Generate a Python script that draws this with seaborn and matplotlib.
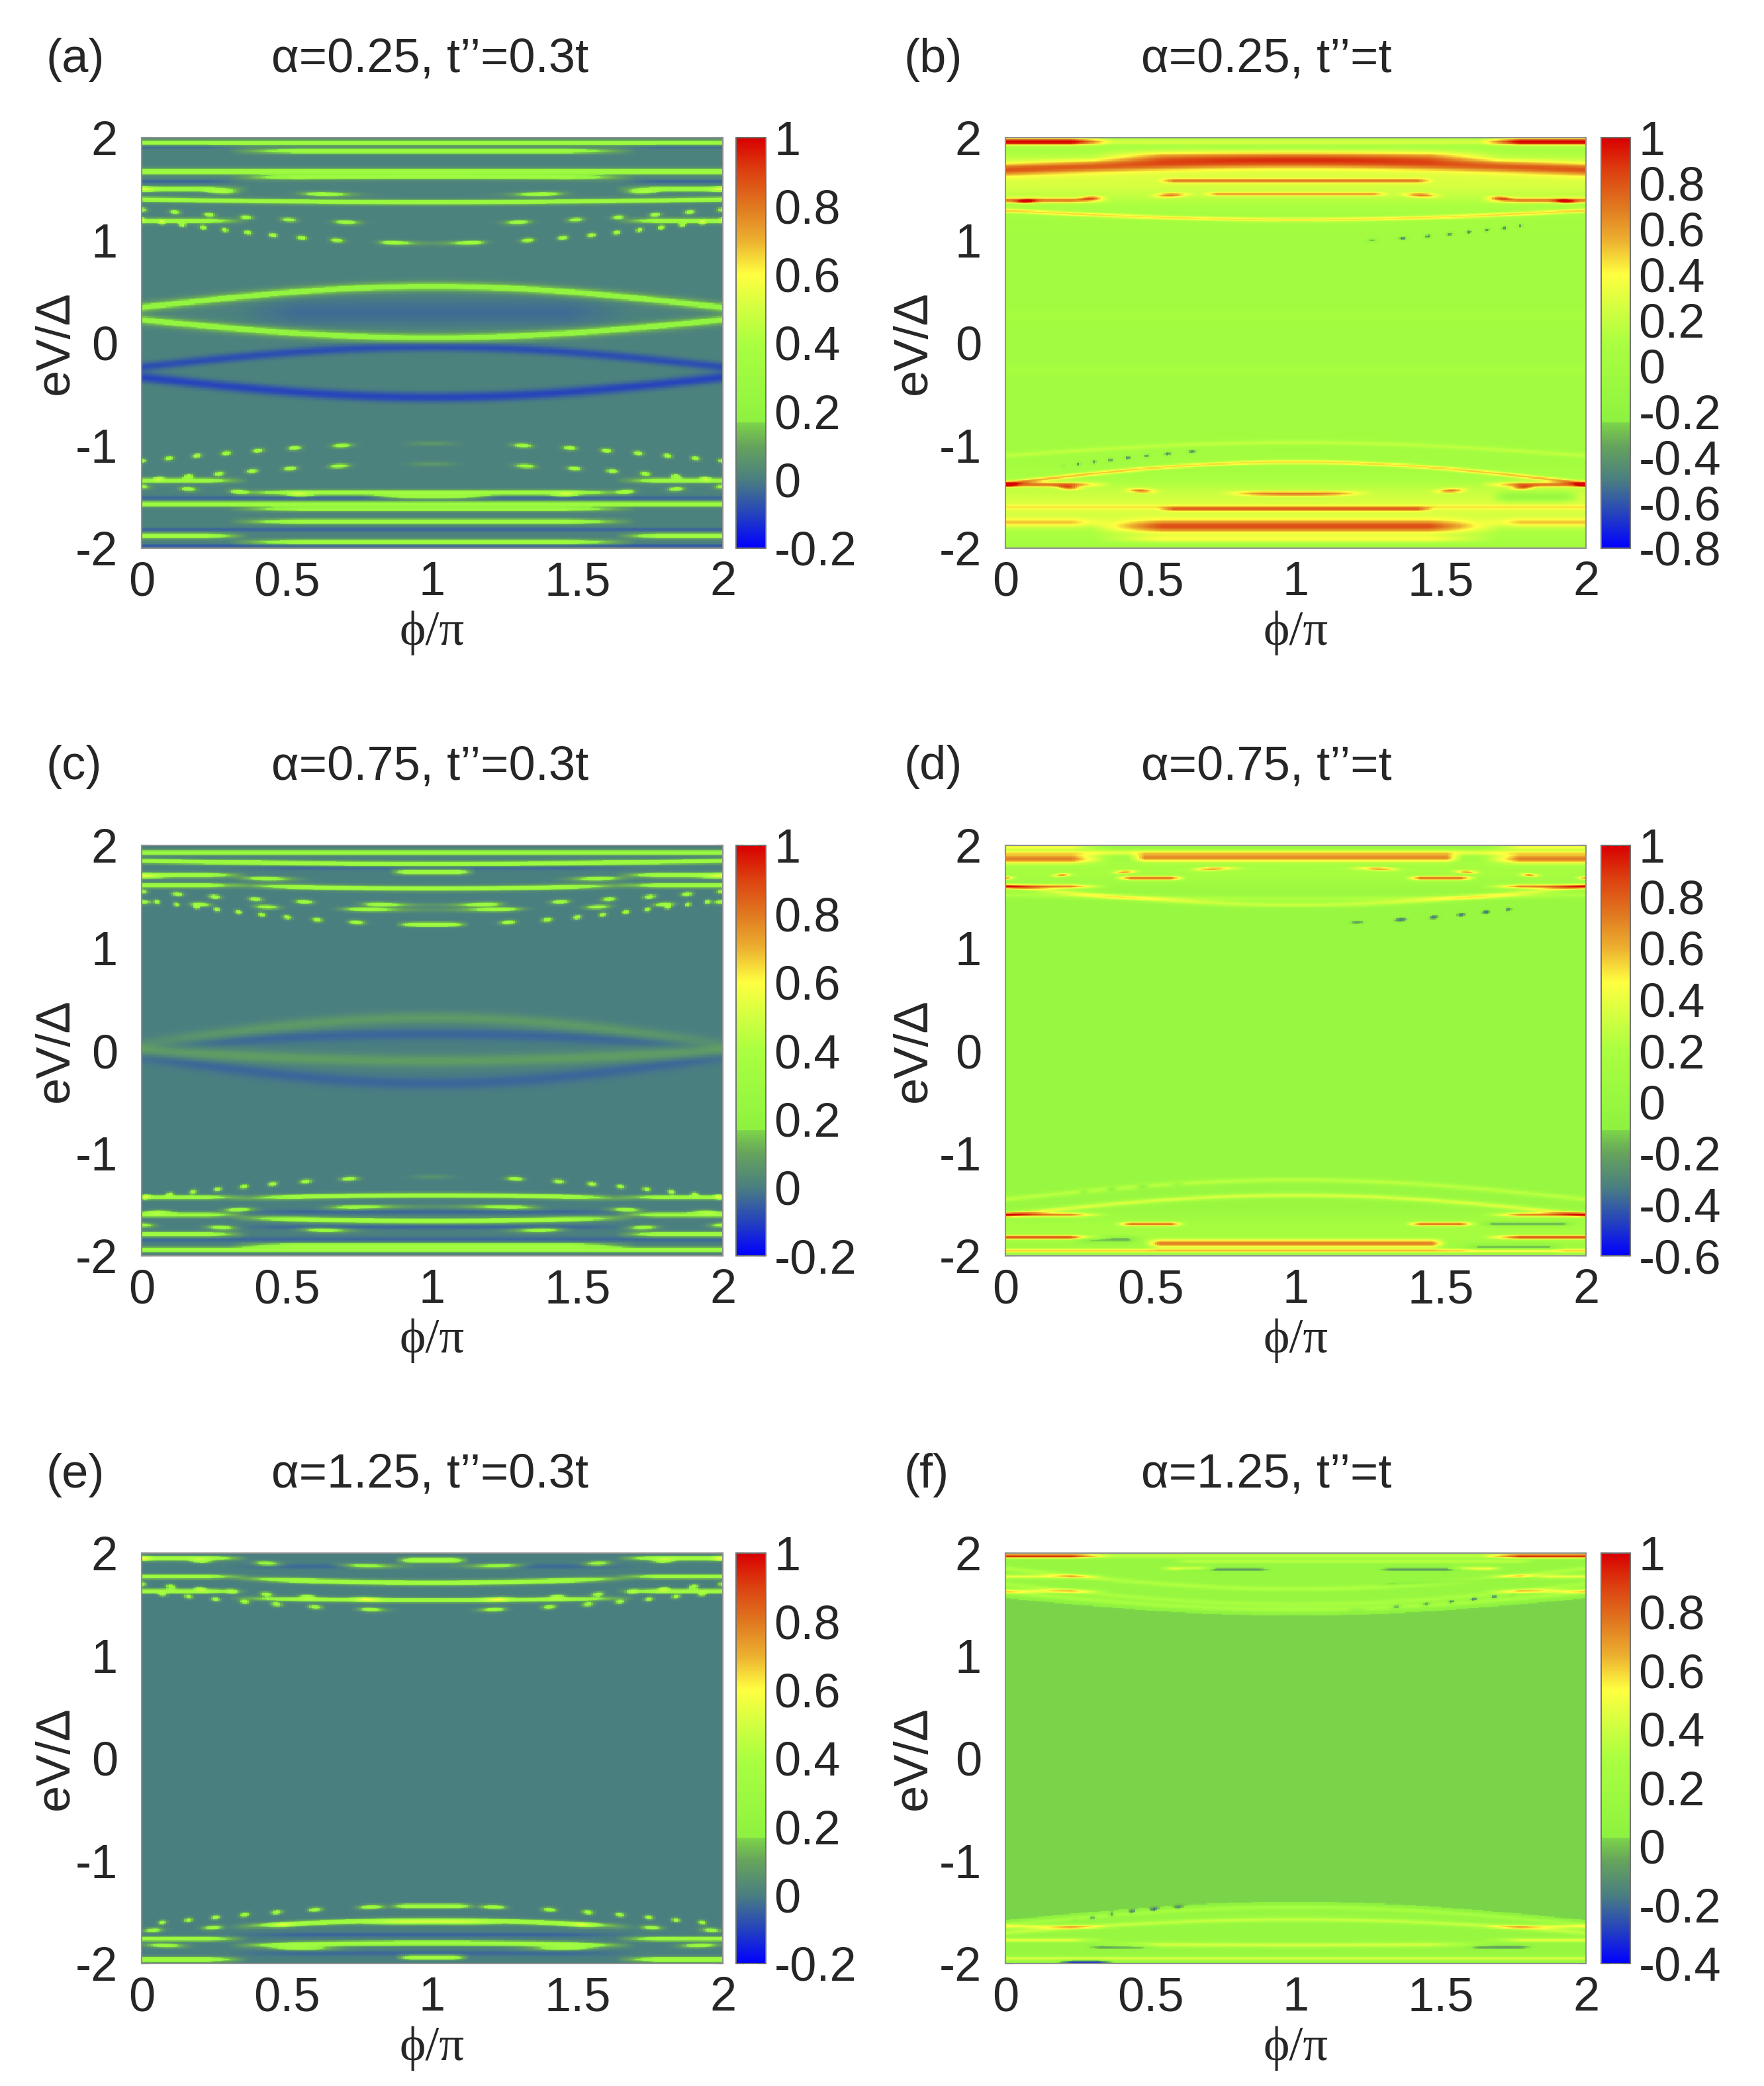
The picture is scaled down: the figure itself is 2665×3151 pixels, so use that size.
import numpy as np
import matplotlib
matplotlib.use("Agg")
import matplotlib.pyplot as plt
import seaborn as sns
from matplotlib.colors import LinearSegmentedColormap

# ----------------------------
# panel settings
# ----------------------------
LETTERS = ["(a)", "(b)", "(c)", "(d)", "(e)", "(f)"]
TITLES = ["α=0.25, t’’=0.3t", "α=0.25, t’’=t",
          "α=0.75, t’’=0.3t", "α=0.75, t’’=t",
          "α=1.25, t’’=0.3t", "α=1.25, t’’=t"]
VMINS = [-0.2, -0.8, -0.2, -0.6, -0.2, -0.4]
BACKGROUND = [0.01, 0.0, 0.0, 0.0, 0.0, 0.025]

PHI_TICKS = [0, 0.5, 1, 1.5, 2]
EV_TICKS = [2, 1, 0, -1, -2]

# bands: (eV at phi=0, eV at phi=pi, value, width, where visible, dot step)
BANDS_A = [
    (0.345, 0.55, 0.22, 0.045, "all", 0), (0.225, 0.05, 0.22, 0.045, "all", 0),
    (0.29, 0.30, -0.03, 0.13, "mid", 0),
    (-0.235, -0.04, -0.08, 0.045, "all", 0), (-0.335, -0.53, -0.095, 0.05, "all", 0),
    (1.95, 1.95, 0.30, 0.025, "all", 0), (1.91, 1.91, -0.04, 0.02, "side", 0),
    (1.87, 1.87, 0.30, 0.025, "mid", 0), (1.67, 1.67, 0.32, 0.028, "all", 0),
    (1.60, 1.62, 0.30, 0.025, "mid", 0), (1.57, 1.57, -0.04, 0.02, "side", 0),
    (1.50, 1.50, 0.28, 0.025, "side", 0), (1.50, 1.44, 0.32, 0.022, "all", 0.025),
    (1.40, 1.37, 0.30, 0.025, "all", 0), (1.30, 1.16, 0.30, 0.022, "all", 0.025),
    (1.19, 1.19, 0.30, 0.025, "side", 0), (1.20, 0.97, 0.32, 0.022, "all", 0.025),
    (-1.15, -0.98, 0.32, 0.022, "all", 0.025), (-1.34, -1.18, 0.32, 0.022, "all", 0.025),
    (-1.34, -1.34, 0.28, 0.025, "side", 0), (-1.46, -1.46, 0.32, 0.025, "mid", 0),
    (-1.40, -1.50, 0.30, 0.022, "all", 0.025), (-1.51, -1.51, -0.04, 0.022, "all", 0),
    (-1.57, -1.57, 0.32, 0.025, "all", 0), (-1.62, -1.62, 0.28, 0.022, "mid", 0),
    (-1.74, -1.74, 0.32, 0.025, "mid", 0), (-1.82, -1.82, -0.04, 0.022, "all", 0),
    (-1.88, -1.88, 0.32, 0.025, "side", 0), (-1.94, -1.94, 0.32, 0.025, "mid", 0),
    (-1.975, -1.975, -0.06, 0.017, "all", 0),
]
BANDS_B = [
    (1.60, 1.60, 0.28, 0.26, "all", 0), (0.27, 0.27, 0.05, 0.04, "all", 0),
    (-0.26, -0.26, 0.05, 0.04, "all", 0),
    (1.96, 1.96, 0.85, 0.03, "side", 0), (1.96, 1.96, 0.22, 0.028, "all", 0),
    (1.69, 1.76, 0.55, 0.06, "all", 0), (1.80, 1.82, 0.40, 0.055, "mid", 0),
    (1.58, 1.58, 0.40, 0.022, (0.55, 1.45), 0),
    (1.45, 1.45, 0.38, 0.02, (0.7, 1.3), 0), (1.37, 1.46, 0.50, 0.021, "all", 0.03),
    (1.39, 1.39, 0.55, 0.025, "side", 0), (1.29, 1.20, 0.42, 0.022, "all", 0),
    (1.225, 0.98, -0.45, 0.02, (1.25, 1.8), 0.02),
    (-1.60, -1.60, 0.28, 0.26, "all", 0),
    (-1.10, -0.97, 0.18, 0.028, "all", 0), (-1.28, -1.02, -0.45, 0.02, (0.2, 0.7), 0.02),
    (-1.37, -1.16, 0.45, 0.022, "all", 0), (-1.38, -1.38, 0.55, 0.025, "side", 0),
    (-1.38, -1.47, 0.50, 0.021, "all", 0.03), (-1.60, -1.60, 0.18, 0.022, "all", 0),
    (-1.62, -1.62, 0.40, 0.022, (0.55, 1.45), 0), (-1.79, -1.79, 0.65, 0.065, "mid", 0),
    (-1.75, -1.75, 0.30, 0.04, "side", 0), (-1.91, -1.91, 0.30, 0.035, "mid", 0),
    (-1.50, -1.50, -0.35, 0.045, (1.7, 1.95), 0),
]
BANDS_C = [
    (0.05, 0.32, 0.07, 0.06, "all", 0), (0.05, 0.16, -0.04, 0.055, "all", 0),
    (0.0, -0.10, 0.08, 0.06, "all", 0), (-0.05, -0.32, -0.04, 0.06, "all", 0),
    (1.93, 1.93, 0.28, 0.025, "all", 0), (1.86, 1.86, -0.04, 0.02, "side", 0),
    (1.85, 1.82, 0.32, 0.025, "all", 0), (1.78, 1.78, -0.04, 0.02, "mid", 0),
    (1.71, 1.71, 0.32, 0.025, "side", 0), (1.74, 1.74, 0.32, 0.025, (0.88, 1.12), 0),
    (1.70, 1.66, 0.28, 0.022, "all", 0.025), (1.61, 1.61, 0.30, 0.025, "side", 0),
    (1.64, 1.58, 0.32, 0.025, "mid", 0), (1.55, 1.42, 0.30, 0.022, "all", 0.025),
    (1.45, 1.37, 0.30, 0.022, "all", 0.025), (1.47, 1.23, 0.30, 0.022, "all", 0.025),
    (1.23, 1.23, 0.30, 0.022, (0.9, 1.1), 0),
    (-1.43, -1.23, 0.30, 0.022, "all", 0.025), (-1.43, -1.43, 0.30, 0.022, "side", 0),
    (-1.47, -1.41, 0.32, 0.025, "mid", 0), (-1.58, -1.52, 0.28, 0.022, "all", 0.025),
    (-1.60, -1.60, 0.30, 0.025, "side", 0), (-1.60, -1.66, 0.34, 0.025, "mid", 0),
    (-1.57, -1.57, -0.04, 0.02, "mid", 0), (-1.72, -1.72, -0.04, 0.022, "mid", 0),
    (-1.70, -1.76, 0.28, 0.022, "all", 0.025), (-1.79, -1.79, 0.32, 0.025, "side", 0),
    (-1.84, -1.84, -0.04, 0.022, "all", 0), (-1.90, -1.90, 0.32, 0.025, "mid", 0),
    (-1.94, -1.94, 0.30, 0.025, "all", 0),
]
BANDS_D = [
    (1.76, 1.76, 0.16, 0.16, "all", 0), (-1.76, -1.76, 0.16, 0.16, "all", 0),
    (1.98, 1.98, 0.40, 0.021, "side", 0), (1.87, 1.87, 0.62, 0.045, "side", 0),
    (1.88, 1.88, 0.58, 0.04, (0.45, 1.55), 0), (1.93, 1.93, 0.35, 0.028, "all", 0),
    (1.68, 1.78, 0.50, 0.017, "all", 0.03),
    (1.68, 1.68, 0.60, 0.021, (0.4, 0.6), 0), (1.68, 1.68, 0.60, 0.021, (1.4, 1.6), 0),
    (1.60, 1.60, 0.65, 0.022, "side", 0), (1.60, 1.42, 0.30, 0.028, "all", 0),
    (1.52, 1.48, 0.20, 0.028, "all", 0),
    (1.468, 1.239, -0.35, 0.02, (1.2, 1.75), 0.025),
    (-1.452, -1.264, -0.35, 0.02, (0.25, 0.6), 0.025),
    (-1.45, -1.26, 0.26, 0.028, "all", 0), (-1.60, -1.41, 0.35, 0.028, "all", 0),
    (-1.60, -1.60, 0.65, 0.022, "side", 0),
    (-1.69, -1.69, 0.60, 0.021, (0.4, 0.6), 0), (-1.69, -1.69, 0.60, 0.021, (1.4, 1.6), 0),
    (-1.82, -1.82, 0.65, 0.022, "side", 0), (-1.88, -1.88, 0.62, 0.04, (0.5, 1.5), 0),
    (-1.95, -1.95, 0.50, 0.022, "all", 0),
    (-1.84, -1.84, -0.30, 0.035, (0.25, 0.45), 0), (-1.69, -1.69, -0.30, 0.025, (1.65, 1.95), 0),
    (-1.92, -1.92, -0.25, 0.035, (1.6, 1.9), 0),
]
BANDS_E = [
    (1.99, 1.99, -0.06, 0.014, "side", 0), (1.95, 1.95, 0.34, 0.025, "side", 0),
    (1.93, 1.93, 0.34, 0.025, (0.9, 1.1), 0), (1.95, 1.87, 0.28, 0.022, "all", 0.025),
    (1.87, 1.87, -0.04, 0.02, "mid", 0), (1.77, 1.77, 0.30, 0.022, "side", 0),
    (1.80, 1.71, 0.34, 0.025, "mid", 0), (1.63, 1.63, 0.34, 0.022, "side", 0),
    (1.70, 1.54, 0.30, 0.022, "all", 0.025), (1.62, 1.44, 0.28, 0.022, "all", 0.025),
    (1.58, 1.54, 0.32, 0.022, "mid", 0),
    (-1.62, -1.44, 0.30, 0.022, "all", 0.025), (-1.44, -1.44, 0.34, 0.022, (0.88, 1.12), 0),
    (-1.70, -1.58, 0.34, 0.025, "mid", 0), (-1.68, -1.60, 0.28, 0.022, "all", 0.025),
    (-1.72, -1.72, -0.04, 0.022, "mid", 0), (-1.76, -1.76, 0.32, 0.022, "side", 0),
    (-1.85, -1.80, 0.34, 0.025, "mid", 0), (-1.82, -1.86, 0.28, 0.022, "all", 0.025),
    (-1.90, -1.90, -0.04, 0.022, "mid", 0), (-1.94, -1.94, 0.34, 0.022, (0.9, 1.1), 0),
    (-1.96, -1.96, 0.34, 0.025, "side", 0),
]
BANDS_F = [
    (1.97, 1.97, 0.60, 0.021, "side", 0), (1.97, 1.97, 0.30, 0.02, "all", 0),
    (1.92, 1.92, 0.26, 0.02, (0.6, 1.8), 0),
    (1.85, 1.85, 0.42, 0.02, (0.55, 0.7), 0), (1.85, 1.85, 0.42, 0.02, (1.55, 1.7), 0),
    (1.84, 1.84, -0.16, 0.017, (0.6, 0.9), 0), (1.84, 1.84, -0.16, 0.017, (1.3, 1.6), 0),
    (1.77, 1.77, 0.40, 0.021, "side", 0), (1.63, 1.63, 0.40, 0.021, "side", 0),
    (1.85, 1.65, 0.24, 0.025, "all", 0), (1.70, 1.50, 0.20, 0.025, "all", 0),
    (1.62, 1.45, 0.20, 0.022, "all", 0),
    (1.70, 1.437, -0.28, 0.02, (1.2, 1.75), 0.025), (1.80, 1.68, -0.16, 0.017, (1.3, 1.85), 0),
    (-1.678, -1.396, -0.28, 0.02, (0.25, 0.6), 0.025),
    (-1.64, -1.64, 0.40, 0.021, "side", 0), (-1.70, -1.57, 0.30, 0.025, "all", 0),
    (-1.62, -1.45, 0.20, 0.022, "all", 0), (-1.77, -1.77, 0.40, 0.021, "side", 0),
    (-1.80, -1.82, 0.34, 0.028, "mid", 0),
    (-1.84, -1.84, -0.16, 0.017, (0.3, 0.5), 0), (-1.84, -1.84, -0.16, 0.017, (1.6, 1.8), 0),
    (-1.95, -1.95, 0.34, 0.021, "all", 0), (-1.99, -1.99, -0.40, 0.02, (0.2, 0.35), 0),
]
ALL_BANDS = [BANDS_A, BANDS_B, BANDS_C, BANDS_D, BANDS_E, BANDS_F]
# raised region outside the gap edge in (f): (eV at phi=0, eV at phi=pi, step)
PLATEAU_F = [(1.59, 1.42, 0.08), (-1.62, -1.43, 0.08)]
PLATEAUS = [[], [], [], [], [], PLATEAU_F]

# gnuplot-like palette (fraction of colour range)
PALETTE = [(0.0, "#0000ff"), (0.08, "#2440c0"), (0.167, "#4a7f80"), (0.25, "#66a45c"),
           (0.305, "#7cd448"), (0.307, "#8ef040"), (0.333, "#92f440"), (0.5, "#aaff40"),
           (0.58, "#d0ff40"), (0.667, "#ffff40"), (0.75, "#ecb030"), (0.833, "#e07820"),
           (0.92, "#dc4010"), (1.0, "#d80000")]
CMAP = LinearSegmentedColormap.from_list("gp", PALETTE, N=512)

N_E, N_PHI = 500, 260


def build_field(bands, plateau, bg, vmin):
    x = (np.arange(N_PHI) + 0.5) / N_PHI * 2
    e = 2 - (np.arange(N_E) + 0.5) / N_E * 4
    X, E = np.meshgrid(x, e)
    s = np.abs(np.sin(np.pi * X / 2))
    F = np.full_like(X, bg)
    for e_edge, e_mid, val, wid, where, dot in bands:
        eb = e_edge + (e_mid - e_edge) * s
        if where == "all":
            w = 1.0
        elif where == "mid":
            w = np.clip((s - 0.45) / 0.3, 0, 1)
        elif where == "side":
            w = np.clip((0.55 - s) / 0.2, 0, 1)
        else:
            x0, x1 = where
            w = np.clip(np.minimum(X - x0, x1 - X) / 0.06 + 0.5, 0, 1)
        m = np.cos(np.pi * eb / dot) ** 8 if dot else 1.0
        F += (val - bg) * w * m * np.exp(-((E - eb) / wid) ** 2)
    for e_edge, e_mid, amp in plateau:
        eb = e_edge + (e_mid - e_edge) * s
        sign = 1 if e_edge > 0 else -1
        F += amp / (1 + np.exp(-sign * (E - eb) / 0.01))
    return np.clip(F, vmin, 1)


# ----------------------------
# figure
# ----------------------------
W, H = 2665, 3151
sns.set_style("white")
plt.rcParams["font.family"] = ["Liberation Sans", "DejaVu Sans"]
fig = plt.figure(figsize=(W / 100, H / 100), dpi=100)

COL_AX = [(214, 1092), (1519, 2396)]
COL_CB = [(1112, 1157), (2419, 2463)]
ROW_TOP = [208, 1277, 2346]
AX_H = 620


def fx(px):
    return px / W


def fy(py):
    return 1 - py / H


for k in range(6):
    r, c = divmod(k, 2)
    x0, x1 = COL_AX[c]
    cb0, cb1 = COL_CB[c]
    top = ROW_TOP[r]
    ax = fig.add_axes([fx(x0), fy(top + AX_H), fx(x1 - x0), AX_H / H])
    cax = fig.add_axes([fx(cb0), fy(top + AX_H), fx(cb1 - cb0), AX_H / H])
    vmin = VMINS[k]
    field = build_field(ALL_BANDS[k], PLATEAUS[k], BACKGROUND[k], vmin)
    sns.heatmap(field, ax=ax, cmap=CMAP, vmin=vmin, vmax=1, cbar_ax=cax,
                xticklabels=False, yticklabels=False, rasterized=True)

    ax.set_xticks([p / 2 * N_PHI for p in PHI_TICKS])
    ax.set_xticklabels([f"{p:g}" for p in PHI_TICKS])
    ax.set_yticks([(2 - v) / 4 * N_E for v in EV_TICKS])
    ax.set_yticklabels([f"{v:g}" for v in EV_TICKS])
    ax.tick_params(axis="both", direction="in", length=9, width=1.5, color="black",
                   top=True, right=True, bottom=True, left=True, labelsize=52)
    ax.tick_params(axis="x", pad=14)
    ax.tick_params(axis="y", pad=26)
    for sp in ax.spines.values():
        sp.set_visible(True)
        sp.set_color("#909090")
        sp.set_linewidth(1.5)

    cb_ticks = np.round(np.arange(vmin, 1.0001, 0.2), 1)
    cax.set_yticks(cb_ticks)
    cax.set_yticklabels([f"{t:g}" if abs(t) > 1e-9 else "0" for t in cb_ticks])
    cax.tick_params(axis="y", direction="in", length=9, width=1.5, color="black",
                    left=True, right=True, labelsize=52, pad=9)
    for sp in cax.spines.values():
        sp.set_visible(True)
        sp.set_color("#707070")
        sp.set_linewidth(1.2)

    # texts
    lx = 70 if c == 0 else 1366
    fig.text(fx(lx), fy(top - 118), LETTERS[k], fontsize=52, ha="left", va="center")
    tx = 410 if c == 0 else 1724
    fig.text(fx(tx), fy(top - 118), TITLES[k], fontsize=52, ha="left", va="center")
    ylx = 84 if c == 0 else 1380
    fig.text(fx(ylx), fy(top + AX_H / 2), "eV/Δ", fontsize=52, rotation=90,
             ha="center", va="center")
    fig.text(fx((x0 + x1) / 2), fy(top + AX_H + 128), "ϕ/π", fontsize=54,
             family=["Liberation Serif", "DejaVu Serif"], ha="center", va="center")

fig.savefig("out.png", dpi=100)
plt.close(fig)
